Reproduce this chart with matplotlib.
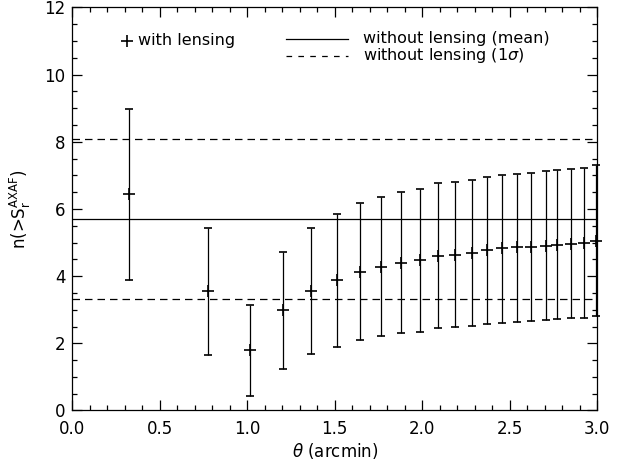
import matplotlib
matplotlib.use("Agg")
import matplotlib.pyplot as plt
import numpy as np

plt.rcParams['font.family'] = ['DejaVu Sans']
plt.rcParams['mathtext.fontset'] = 'dejavusans'

# values
theta = [0.323, 0.777, 1.015, 1.203, 1.366, 1.511, 1.643, 1.767, 1.881, 1.988,
         2.089, 2.188, 2.284, 2.371, 2.455, 2.543, 2.621, 2.705, 2.773, 2.852,
         2.924, 2.995]
n_lens = [6.45, 3.55, 1.79, 2.99, 3.56, 3.88, 4.13, 4.28, 4.40, 4.48,
          4.61, 4.63, 4.70, 4.78, 4.83, 4.86, 4.86, 4.90, 4.93, 4.96,
          4.98, 5.04]
n_low = [3.89, 1.66, 0.44, 1.24, 1.67, 1.90, 2.09, 2.21, 2.31, 2.35,
         2.45, 2.48, 2.53, 2.58, 2.62, 2.64, 2.66, 2.69, 2.72, 2.74,
         2.75, 2.81]
n_high = [8.97, 5.44, 3.13, 4.71, 5.44, 5.84, 6.17, 6.35, 6.52, 6.59,
          6.76, 6.80, 6.87, 6.96, 7.02, 7.05, 7.06, 7.13, 7.17, 7.20,
          7.21, 7.30]
nolens_mean = 5.70
nolens_sigma = [3.31, 8.09]

theta = np.array(theta)
n_lens = np.array(n_lens)
yerr = [n_lens - np.array(n_low), np.array(n_high) - n_lens]

fig = plt.figure(figsize=(6.24, 4.67), dpi=100)
ax = fig.add_axes([0.116, 0.121, 0.841, 0.863])

ax.errorbar(theta, n_lens, yerr=yerr, fmt='+', color='black', ms=8, mew=1.2,
            elinewidth=0.9, capsize=3, capthick=0.9, clip_on=False)

ax.axhline(nolens_mean, color='black', lw=0.9)
for s in nolens_sigma:
    ax.axhline(s, color='black', lw=0.9, dashes=(6, 4))

ax.set_xlim(0, 3.0)
ax.set_ylim(0, 12)
ax.set_xticks(np.arange(0, 3.01, 0.5))
ax.set_xticks(np.arange(0, 3.01, 0.1), minor=True)
ax.set_yticks(np.arange(0, 12.1, 2))
ax.set_yticks(np.arange(0, 12.1, 0.5), minor=True)
ax.xaxis.set_major_formatter(matplotlib.ticker.FormatStrFormatter('%.1f'))
ax.tick_params(which='both', direction='in', top=True, right=True,
               labelsize=12, width=0.9)
ax.tick_params(which='major', length=7)
ax.tick_params(which='minor', length=3.5)
ax.tick_params(axis='x', pad=7)
ax.tick_params(axis='y', pad=5)
for sp in ax.spines.values():
    sp.set_linewidth(0.9)

ax.set_xlabel(r'$\theta$ (arcmin)', fontsize=12, labelpad=2)
ax.set_ylabel(r'n(>S$_{\rm r}^{\rm AXAF}$)', fontsize=12, labelpad=8)

# legend drawn by hand, as in the original
tr = ax.transAxes
ax.plot([0.104], [0.918], '+', color='black', ms=8, mew=1.2, transform=tr)
ax.text(0.125, 0.918, 'with lensing', transform=tr, fontsize=11.5, va='center')
row1, row2 = 0.923, 0.880
ax.plot([0.408, 0.526], [row1, row1], color='black', lw=0.9, transform=tr)
ax.plot([0.408, 0.526], [row2, row2], color='black', lw=0.9, dashes=(4.5, 5),
        transform=tr)
ax.text(0.553, row1, 'without lensing (mean)', transform=tr, fontsize=11.5,
        va='center')
ax.text(0.553, row2, r'without lensing (1$\sigma$)', transform=tr,
        fontsize=11.5, va='center')

fig.savefig('out.png', dpi=100)
